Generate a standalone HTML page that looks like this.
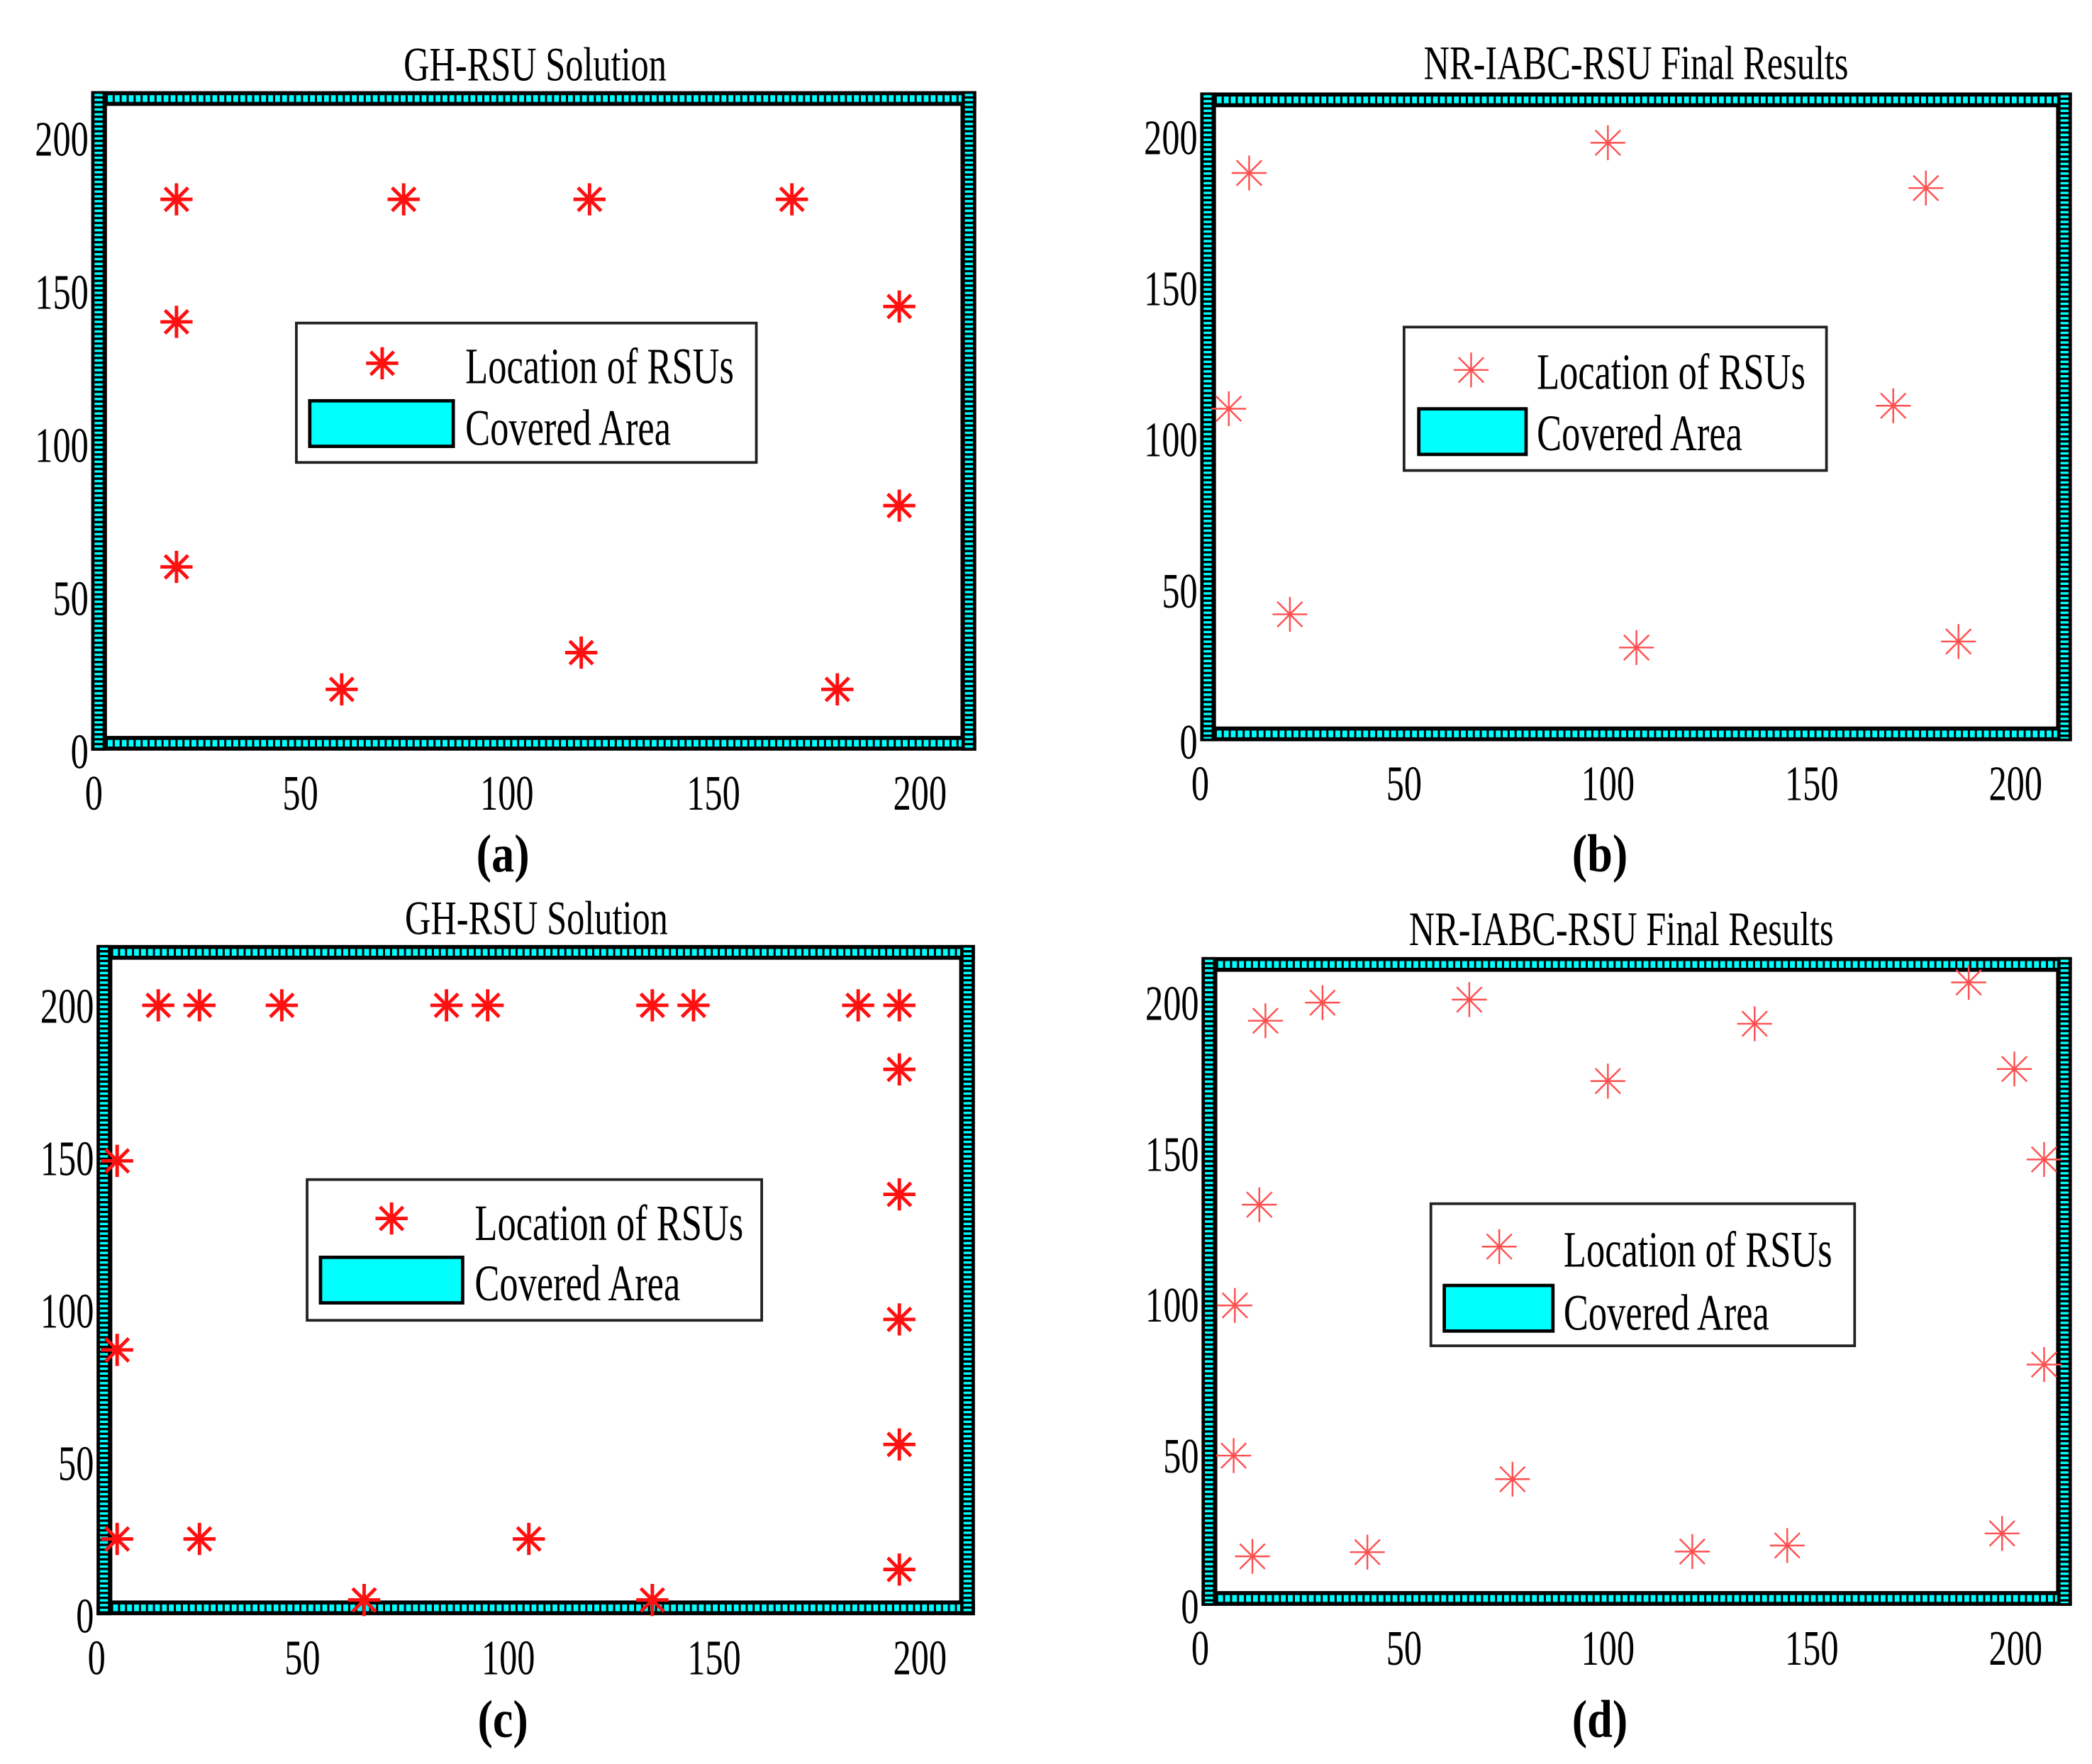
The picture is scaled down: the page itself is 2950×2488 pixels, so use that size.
<!DOCTYPE html>
<html><head><meta charset="utf-8"><style>
html,body{margin:0;padding:0;background:#fff;}
svg{display:block;}
text{font-family:"Liberation Serif",serif;fill:#000;}
</style></head><body>
<svg id="fig" xmlns="http://www.w3.org/2000/svg" width="2950" height="2488" viewBox="0 0 1560 1316" preserveAspectRatio="none"></svg>
<script>
// Panel (a)
const aX = [20,20,20,75,120,169,195,195,60,118,180];
const aY = [180,140,60,180,180,180,145,80,20,32,20];
// Panel (b)
const bX = [12,7,22,100,107,178,170,186];
const bY = [188,110,42,198,31,183,111,33];
// Panel (c)
const cX = [15,25,45,85,95,135,145,185,195,195,195,195,195,195,5,5,5,25,65,105,135];
const cY = [200,200,200,200,200,200,200,200,200,179,138,97,56,15,149,87,25,25,5,25,5];
// Panel (d)
const dX = [16,30,66,100,136,188.5,199.7,207,207,14.5,8.5,8.2,12.8,41,76.6,120.7,144,196.7];
const dY = [194,200,201,174,193,206.7,178,148,80,133,99.6,49.8,16.4,17.8,42,18,20,24];
const xTicks = [0,50,100,150,200];
const yTicks = [0,50,100,150,200];
const titles = ["GH-RSU Solution","NR-IABC-RSU Final Results","GH-RSU Solution","NR-IABC-RSU Final Results"];
const panelLabels = ["a","b","c","d"];

const NS="http://www.w3.org/2000/svg";
const svg=document.getElementById('fig');
function mk(tag,attrs,parent){const e=document.createElementNS(NS,tag);for(const k in attrs)e.setAttribute(k,attrs[k]);(parent||svg).appendChild(e);return e;}
function txt(g,x,y,size,sx,anchor,str,bold){
  const t=mk('text',{x:0,y:0,'font-size':size,'text-anchor':anchor,transform:'translate('+x+','+y+') scale('+sx+',1)'},g);
  if(bold)t.setAttribute('font-weight','bold');
  t.textContent=str;
  return t;
}

const panels=[
 {xs:aX,ys:aY,x0:70,x200:686,y0:560,y200:103,L:68,R:728,T:68,B:560,thick:true,titleX:399,titleY:60,labX:375,labY:650,
  leg:[221,241,564,345],star:[285,271],t1:[347,286],sw:[231,299,338,333],t2:[347,332]},
 {xs:bX,ys:bY,x0:895,x200:1503,y0:553,y200:102,L:895,R:1545,T:69,B:553,thick:false,titleX:1220,titleY:59,labX:1193,labY:650,
  leg:[1047,244,1362,351],star:[1097,276],t1:[1146,290],sw:[1058,305,1138,339],t2:[1146,336]},
 {xs:cX,ys:cY,x0:72,x200:686,y0:1205,y200:750,L:72,R:727,T:705,B:1205,thick:true,titleX:400,titleY:697,labX:375,labY:1296,
  leg:[229,880,568,985],star:[292,909],t1:[354,925],sw:[239,938,345,972],t2:[354,970]},
 {xs:dX,ys:dY,x0:895,x200:1503,y0:1198,y200:748,L:896,R:1545,T:714,B:1198,thick:false,titleX:1209,titleY:705,labX:1193,labY:1296,
  leg:[1067,898,1383,1004],star:[1118,930],t1:[1166,945],sw:[1077,959,1158,993],t2:[1166,992]}
];

function star(g,cx,cy,thick,name){
  const col=thick?'#ff1010':'#ff5050', w=thick?2.6:1.3, r=thick?12:13, d=r*0.72;
  const s=mk('g',{stroke:col,'stroke-width':w},g);
  
  
  mk('line',{x1:cx-r,y1:cy,x2:cx+r,y2:cy},s);
  mk('line',{x1:cx,y1:cy-r,x2:cx,y2:cy+r},s);
  mk('line',{x1:cx-d,y1:cy-d,x2:cx+d,y2:cy+d},s);
  mk('line',{x1:cx-d,y1:cy+d,x2:cx+d,y2:cy-d},s);
}
function band(g,x1,y1,x2,y2,horiz){
  const bw=11;
  if(horiz){
    mk('rect',{x:x1,y:y1,width:x2-x1,height:bw,fill:'#000'},g);
    mk('line',{x1:x1+2,y1:y1+bw/2,x2:x2-2,y2:y1+bw/2,stroke:'#00ffff','stroke-width':5,'stroke-dasharray':'3.6 1.6'},g);
  } else {
    mk('rect',{x:x1,y:y1,width:bw,height:y2-y1,fill:'#000'},g);
    mk('line',{x1:x1+bw/2,y1:y1+2,x2:x1+bw/2,y2:y2-2,stroke:'#00ffff','stroke-width':6,'stroke-dasharray':'1.8 1.8'},g);
  }
}

panels.forEach((p,i)=>{
  const g=mk('g',{});
  
  
  const sx=v=>p.x0+(v/200)*(p.x200-p.x0);
  const sy=v=>p.y0+(v/200)*(p.y200-p.y0);
  mk('rect',{x:p.L+11,y:p.T+10,width:p.R-p.L-22,height:p.B-p.T-20,fill:'#fff',stroke:'#000','stroke-width':1.5},g);
  band(g,p.L,p.T,p.R,p.T,true);
  band(g,p.L,p.B-11,p.R,p.B,true);
  band(g,p.L,p.T,p.L,p.B,false);
  band(g,p.R-11,p.T,p.R,p.B,false);
  xTicks.forEach(t=>{
    const tx=txt(g,sx(t),p.B+44,37,0.72,'middle',String(t));
    
    
  });
  yTicks.forEach(t=>{
    const ty=txt(g,p.L-2,sy(t)+13,37,0.72,'end',String(t));
    
    
  });
  const tt=txt(g,p.titleX,p.titleY,36,0.74,'middle',titles[i]);
  
  
  const lb=txt(g,p.labX,p.labY,40,0.85,'middle','('+panelLabels[i]+')',true);
  
  
  p.xs.forEach((x,k)=>{ star(g,sx(x),sy(p.ys[k]),p.thick,'rsu-point'); });
  const lg=mk('g',{},g);
  
  
  const [a,b,c,d]=p.leg;
  mk('rect',{x:a,y:b,width:c-a,height:d-b,fill:'#fff',stroke:'#222','stroke-width':2},lg);
  star(lg,p.star[0],p.star[1],p.thick,'legend-marker');
  const l1=txt(lg,p.t1[0],p.t1[1],38,0.73,'start','Location of RSUs');
  
  
  const [s1,s2,s3,s4]=p.sw;
  const swr=mk('rect',{x:s1,y:s2,width:s3-s1,height:s4-s2,fill:'#00ffff',stroke:'#000','stroke-width':2.5},lg);
  
  
  const l2=txt(lg,p.t2[0],p.t2[1],38,0.73,'start','Covered Area');
  
  
});
</script>
</body></html>
